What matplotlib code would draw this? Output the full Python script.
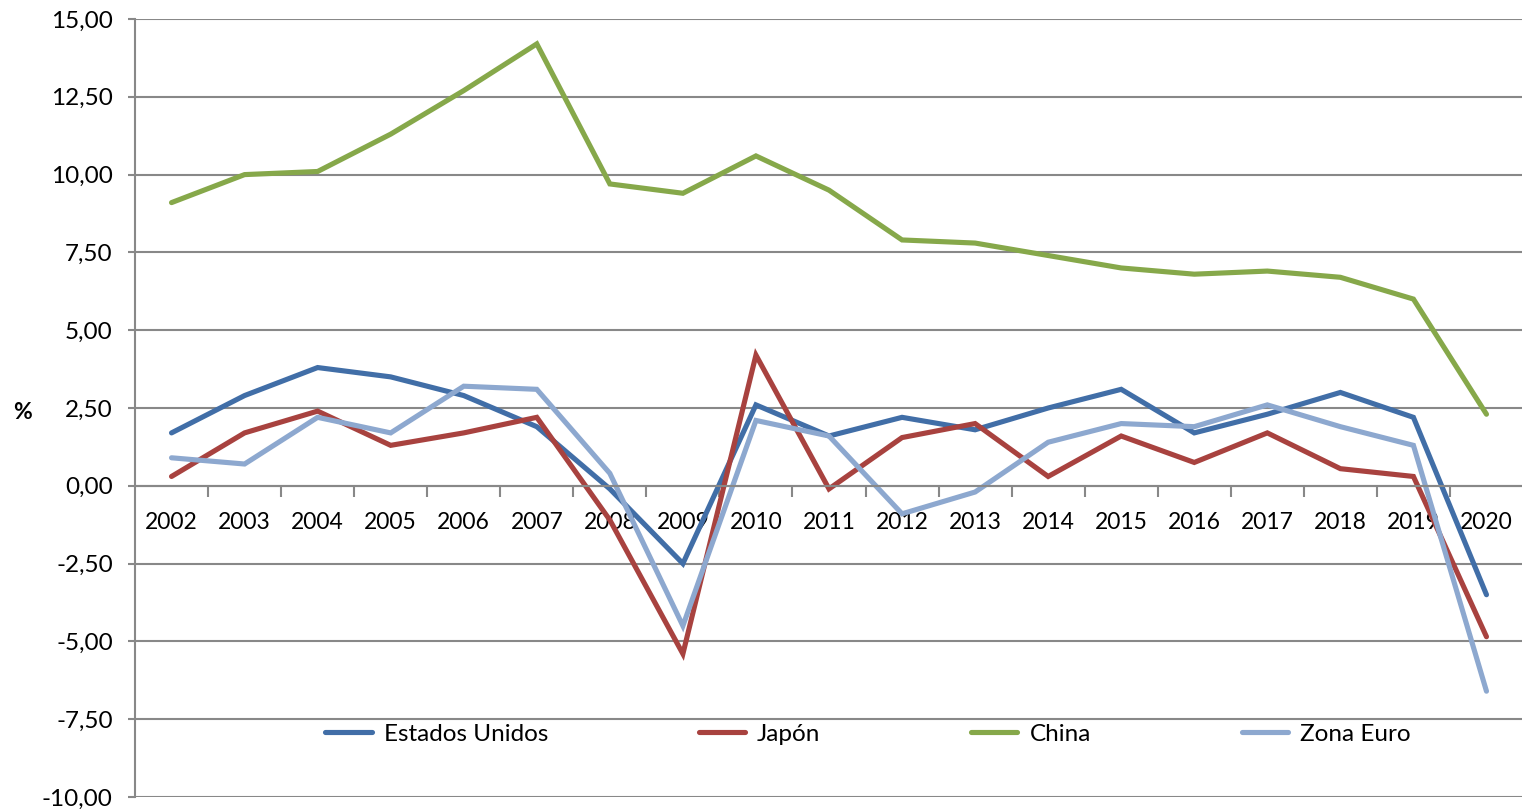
import matplotlib
matplotlib.use("Agg")
import matplotlib.pyplot as plt
import numpy as np
from matplotlib.ticker import FixedLocator, FuncFormatter

years = [str(y) for y in range(2002, 2021)]
estados_unidos = [1.7, 2.9, 3.8, 3.5, 2.9, 1.9, -0.1, -2.5, 2.6, 1.6, 2.2, 1.8, 2.5, 3.1, 1.7, 2.3, 3.0, 2.2, -3.5]
japon = [0.3, 1.7, 2.4, 1.3, 1.7, 2.2, -1.1, -5.4, 4.2, -0.1, 1.55, 2.0, 0.3, 1.6, 0.75, 1.7, 0.55, 0.3, -4.85]
china = [9.1, 10.0, 10.1, 11.3, 12.7, 14.2, 9.7, 9.4, 10.6, 9.5, 7.9, 7.8, 7.4, 7.0, 6.8, 6.9, 6.7, 6.0, 2.3]
zona_euro = [0.9, 0.7, 2.2, 1.7, 3.2, 3.1, 0.4, -4.5, 2.1, 1.6, -0.9, -0.2, 1.4, 2.0, 1.9, 2.6, 1.9, 1.3, -6.6]
series_names = ["Estados Unidos", "Japón", "China", "Zona Euro"]
colors = ["#416EA7", "#A8423F", "#86A84A", "#8DA8CF"]
yticks = [-10, -7.5, -5, -2.5, 0, 2.5, 5, 7.5, 10, 12.5, 15]

plt.rcParams['font.family'] = ['Lato', 'DejaVu Sans']
FS = 16.5

fig = plt.figure(figsize=(15.22, 8.09), dpi=100)
ax = fig.add_axes([135/1522, 1 - 797/809, (1523-135)/1522, (797-19)/809])

x = np.arange(len(years))
for name, vals, c in zip(series_names, [estados_unidos, japon, china, zona_euro], colors):
    ax.plot(x, vals, color=c, lw=3.7, label=name, solid_capstyle='round', solid_joinstyle='miter')

ax.set_xlim(-0.5, len(years) - 0.5)
ax.set_ylim(-10, 15)
ax.set_yticks(yticks)
ax.yaxis.set_major_formatter(FuncFormatter(lambda v, p: f"{v:.2f}".replace('.', ',')))
ax.grid(axis='y', color='#888888', lw=1.5)
ax.set_axisbelow(True)

for s in ['top', 'right']:
    ax.spines[s].set_visible(False)
ax.spines['left'].set_color('#888888')
ax.spines['left'].set_linewidth(1.5)
ax.spines['bottom'].set_position(('data', 0))
ax.spines['bottom'].set_color('#888888')
ax.spines['bottom'].set_linewidth(1.5)

ax.set_xticks(x)
ax.set_xticklabels(years)
ax.xaxis.set_minor_locator(FixedLocator(np.arange(0.5, len(years) - 0.5, 1)))
ax.tick_params(axis='x', which='major', length=0, pad=19, labelsize=FS)
ax.tick_params(axis='x', which='minor', length=8, width=1.5, color='#888888', direction='out')
ax.tick_params(axis='y', length=5, width=1.5, color='#888888', pad=11, labelsize=17.5)

fig.text(23/1522, 1 - 413/809, '%', fontsize=FS, fontweight='bold', ha='center', va='center')

leg = ax.legend(loc='center', bbox_to_anchor=((868-135)/1388, (734-797)/(-778)), ncol=4, frameon=False,
                fontsize=17.5, handlelength=1.9, handletextpad=0.5, columnspacing=6.2, borderaxespad=0)

fig.savefig('out.png', dpi=100, facecolor='white')
